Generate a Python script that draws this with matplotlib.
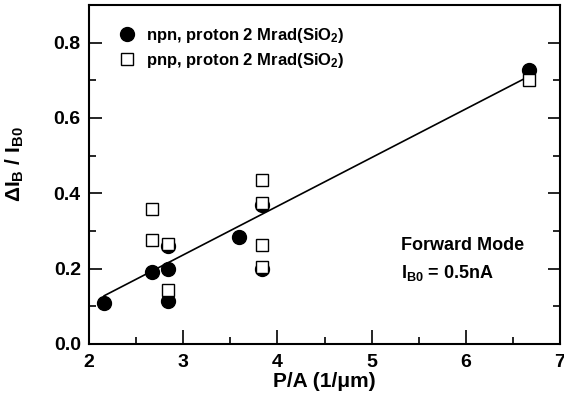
import matplotlib
matplotlib.use('Agg')
import matplotlib.pyplot as plt
from matplotlib.ticker import MultipleLocator

plt.rcParams['font.family'] = 'Liberation Sans'
plt.rcParams['font.weight'] = 'bold'
plt.rcParams['mathtext.fontset'] = 'custom'
plt.rcParams['mathtext.rm'] = 'Liberation Sans:bold'
plt.rcParams['mathtext.it'] = 'Liberation Sans:bold'
plt.rcParams['mathtext.bf'] = 'Liberation Sans:bold'

# npn, proton 2 Mrad(SiO2) -- filled circles
npn_x = [2.16, 2.67, 2.84, 2.84, 2.84, 3.59, 3.84, 3.84, 6.67]
npn_y = [0.11, 0.19, 0.20, 0.115, 0.26, 0.285, 0.368, 0.20, 0.728]

# pnp, proton 2 Mrad(SiO2) -- open squares
pnp_x = [2.67, 2.67, 2.84, 2.84, 3.84, 3.84, 3.84, 3.84, 6.67]
pnp_y = [0.357, 0.275, 0.266, 0.144, 0.435, 0.375, 0.263, 0.203, 0.70]

# linear fit line endpoints
fit_x = [2.16, 6.62]
fit_y = [0.128, 0.704]

fig = plt.figure(figsize=(5.64, 4.09), dpi=100)
ax = fig.add_axes([0.158, 0.159, 0.835, 0.829])

ax.plot(fit_x, fit_y, color='black', lw=1.2, zorder=1)
ax.plot(npn_x, npn_y, 'o', color='black', ms=10, ls='none', zorder=2,
        label=r'npn, proton 2 Mrad(SiO$_2$)')
ax.plot(pnp_x, pnp_y, 's', mfc='white', mec='black', mew=1.0, ms=8.5, ls='none',
        zorder=3, label=r'pnp, proton 2 Mrad(SiO$_2$)')

ax.set_xlim(2, 7)
ax.set_ylim(0, 0.9)
ax.xaxis.set_major_locator(MultipleLocator(1))
ax.xaxis.set_minor_locator(MultipleLocator(0.5))
ax.yaxis.set_major_locator(MultipleLocator(0.2))
ax.yaxis.set_minor_locator(MultipleLocator(0.1))
ax.yaxis.set_major_formatter(plt.FormatStrFormatter('%.1f'))
ax.tick_params(which='both', direction='in', top=False, right=True, labelsize=14, width=1.2)
ax.tick_params(which='major', length=9)
ax.tick_params(which='minor', length=5)
ax.tick_params(axis='x', which='major', length=10, pad=7)
ax.tick_params(axis='y', which='major', pad=6)
for s in ax.spines.values():
    s.set_linewidth(1.5)

ax.set_xlabel('P/A (1/μm)', fontsize=15, fontweight='bold', labelpad=1)
ax.set_ylabel(r'$\Delta$I$_\mathrm{B}$ / I$_\mathrm{B0}$', fontsize=15, fontweight='bold')
ax.yaxis.set_label_coords(-0.135, 0.53)

ax.legend(loc='upper left', frameon=False, fontsize=12, handletextpad=0.55,
          borderaxespad=0.0, bbox_to_anchor=(0.045, 0.958), labelspacing=0.35,
          handlelength=1.2)

ax.text(0.663, 0.277, 'Forward Mode', transform=ax.transAxes, fontsize=13)
ax.text(0.663, 0.195, r'I$_\mathrm{B0}$ = 0.5nA', transform=ax.transAxes, fontsize=13)

fig.savefig('out.png', dpi=100)
